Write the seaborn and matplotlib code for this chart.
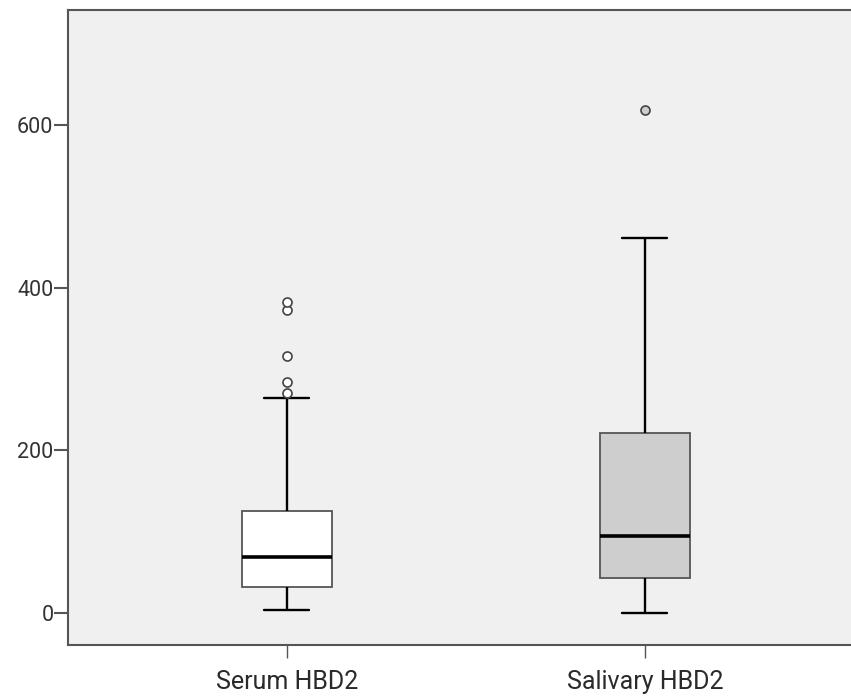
import numpy as np
import pandas as pd
import seaborn as sns
import matplotlib.pyplot as plt

# values (quartiles, whiskers and outliers)
categories = ["Serum HBD2", "Salivary HBD2"]
serum = [4, 10, 15, 20, 25, 29, 32, 38, 45, 52, 58, 64, 69, 78, 88, 97, 106,
         116, 125, 264, 270, 284, 316, 372, 382]
salivary = [0, 12, 25, 35, 43, 55, 68, 82, 95, 120, 150, 190, 222, 280, 360,
            461, 618]
box_colors = ["white", "#cecece"]

df = pd.DataFrame({
    "group": [categories[0]] * len(serum) + [categories[1]] * len(salivary),
    "value": serum + salivary,
})

sns.set_style("white")
plt.rcParams["font.family"] = ["Roboto", "DejaVu Sans"]

fig = plt.figure(figsize=(8.51, 6.97), dpi=100)
ax = fig.add_axes([0.08, 0.0746, 0.923, 0.911])
ax.set_facecolor("#f0f0f0")

for cat, col in zip(categories, box_colors):
    sns.boxplot(data=df[df["group"] == cat], x="group", y="value",
                order=categories, color=col, saturation=1, width=0.25,
                whis=1.5, ax=ax,
                boxprops=dict(edgecolor="#555555", linewidth=1.3),
                whiskerprops=dict(color="black", linewidth=1.7),
                capprops=dict(color="black", linewidth=1.7),
                medianprops=dict(color="black", linewidth=2.6),
                flierprops=dict(marker="o", markersize=6.5,
                                markerfacecolor=col, markeredgecolor="#444444",
                                markeredgewidth=1.2))

ax.set_ylim(-39, 741)
ax.set_xlim(-0.611, 1.583)
ax.set_yticks([0, 200, 400, 600])
ax.set_xlabel("")
ax.set_ylabel("")

for s in ["left", "bottom", "top"]:
    ax.spines[s].set_visible(True)
    ax.spines[s].set_color("#555555")
    ax.spines[s].set_linewidth(1.5)
ax.spines["right"].set_visible(False)

ax.tick_params(axis="y", direction="out", length=10, width=1.5, color="#555555",
               labelsize=15.5, labelcolor="#333333", left=True, pad=0.5)
ax.tick_params(axis="x", direction="out", length=9, width=1, color="#555555",
               bottom=True, labelsize=18, labelcolor="#2a2a2a", pad=9)

plt.savefig("out.png", dpi=100)
